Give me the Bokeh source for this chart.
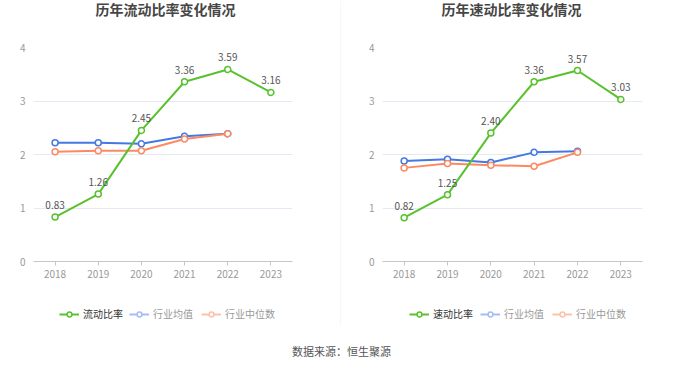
from bokeh.plotting import figure
from bokeh.models import (FactorRange, Range1d, FixedTicker, Legend, LegendItem,
                          ColumnDataSource)
from bokeh.layouts import row, column
from bokeh.embed import file_html
from bokeh.resources import INLINE
from bokeh.core.properties import value

years = ["2018", "2019", "2020", "2021", "2022", "2023"]
years_ind = ["2018", "2019", "2020", "2021", "2022"]

current_ratio = [0.83, 1.26, 2.45, 3.36, 3.59, 3.16]
current_mean = [2.22, 2.22, 2.20, 2.34, 2.39]
current_median = [2.05, 2.07, 2.07, 2.29, 2.39]

quick_ratio = [0.82, 1.25, 2.40, 3.36, 3.57, 3.03]
quick_mean = [1.88, 1.91, 1.85, 2.04, 2.06]
quick_median = [1.75, 1.83, 1.80, 1.78, 2.04]

titles = ["历年流动比率变化情况", "历年速动比率变化情况"]
names = ["流动比率", "速动比率"]
ind_names = ["行业均值", "行业中位数"]
source_text = "数据来源：恒生聚源"
y_ticks = [0, 1, 2, 3, 4]

FONT = "Noto Sans CJK SC"
GREEN = "#58c22e"
BLUE = "#4479e2"
ORANGE = "#fb8a62"
BLUE_L = "#a6bdf1"
ORANGE_L = "#fdc0a9"
NAN = float("nan")


def blank(width, height, left_b, right_b):
    fw = width - left_b - right_b
    f = figure(width=width, height=height, output_backend="svg", toolbar_location=None,
               x_range=Range1d(0, fw), y_range=Range1d(0, height),
               min_border_left=left_b, min_border_right=right_b,
               min_border_top=0, min_border_bottom=0,
               x_axis_type=None, y_axis_type=None)
    f.outline_line_color = None
    f.xgrid.grid_line_color = None
    f.ygrid.grid_line_color = None
    return f


def make_chart(title, name, main, mean, median, width, left_b, right_b, title_x, leg_x):
    # title strip
    t = blank(width, 39, left_b, right_b)
    t.text(x=[title_x], y=[31], text=[title], text_font=value(FONT), text_font_size="14px",
           text_font_style="bold", text_color="#464646", text_align="center",
           text_baseline="middle")

    p = figure(width=width, height=251, x_range=FactorRange(*years),
               y_range=Range1d(0, 4), output_backend="svg", toolbar_location=None,
               min_border_left=left_b, min_border_right=right_b,
               min_border_top=8, min_border_bottom=29)
    p.x_range.range_padding = 0
    p.outline_line_color = None

    p.xgrid.grid_line_color = None
    p.ygrid.grid_line_color = "#e6e9f4"
    p.ygrid.ticker = FixedTicker(ticks=y_ticks)

    p.yaxis.ticker = FixedTicker(ticks=y_ticks)
    p.yaxis.axis_line_color = None
    p.yaxis.major_tick_line_color = None
    p.yaxis.major_tick_in = 0
    p.yaxis.major_tick_out = 0
    p.yaxis.minor_tick_line_color = None
    p.yaxis.major_label_text_color = "#999999"
    p.yaxis.major_label_text_font = FONT
    p.yaxis.major_label_text_font_size = "10px"
    p.yaxis.major_label_standoff = 8

    p.xaxis.axis_line_color = "#c6c6c6"
    p.xaxis.major_tick_line_color = "#c6c6c6"
    p.xaxis.major_tick_in = 0
    p.xaxis.major_tick_out = 4
    p.xaxis.minor_tick_line_color = None
    p.xaxis.major_label_text_color = "#999999"
    p.xaxis.major_label_text_font = FONT
    p.xaxis.major_label_text_font_size = "10px"
    p.xaxis.major_label_standoff = 4

    src_mean = ColumnDataSource(dict(x=years_ind, y=mean))
    src_med = ColumnDataSource(dict(x=years_ind, y=median))
    src_main = ColumnDataSource(dict(x=years, y=main, t=["%.2f" % v for v in main]))

    p.line("x", "y", source=src_mean, color=BLUE, line_width=2)
    p.scatter("x", "y", source=src_mean, size=6, line_color=BLUE, fill_color="white", line_width=1.5)
    p.line("x", "y", source=src_med, color=ORANGE, line_width=2)
    p.scatter("x", "y", source=src_med, size=6, line_color=ORANGE, fill_color="white", line_width=1.5)
    p.line("x", "y", source=src_main, color=GREEN, line_width=2)
    p.scatter("x", "y", source=src_main, size=6, line_color=GREEN, fill_color="white", line_width=1.5)
    p.text("x", "y", text="t", source=src_main, text_font=value(FONT), text_font_size="10px",
           text_color="#555555", text_align="center", text_baseline="middle", y_offset=-12)

    # legend strip (icon-only renderers with no drawable points)
    lgf = blank(width, 40, left_b, right_b)
    dummy = dict(x=[NAN], y=[NAN])
    lb = lgf.line(x=dummy["x"], y=dummy["y"], color=BLUE_L, line_width=2)
    sb = lgf.scatter(x=dummy["x"], y=dummy["y"], size=9, line_color=BLUE_L, fill_color="white", line_width=1.5)
    lo = lgf.line(x=dummy["x"], y=dummy["y"], color=ORANGE_L, line_width=2)
    so = lgf.scatter(x=dummy["x"], y=dummy["y"], size=9, line_color=ORANGE_L, fill_color="white", line_width=1.5)
    lg = lgf.line(x=dummy["x"], y=dummy["y"], color=GREEN, line_width=2)
    sg = lgf.scatter(x=dummy["x"], y=dummy["y"], size=9, line_color=GREEN, fill_color="white", line_width=1.5)

    items = [(name, [lg, sg], "#333333"), (ind_names[0], [lb, sb], "#999999"),
             (ind_names[1], [lo, so], "#999999")]
    for (lab, rs, col), lx in zip(items, leg_x):
        leg = Legend(items=[LegendItem(label=lab, renderers=rs)], location=(lx, 9),
                     padding=0, margin=0, glyph_width=20, glyph_height=12,
                     label_standoff=4, label_text_font=FONT, label_text_font_size="10px",
                     label_text_color=col, background_fill_alpha=0, border_line_alpha=0)
        lgf.add_layout(leg, "center")
    return column(t, p, lgf)


c1 = make_chart(titles[0], names[0], current_ratio, current_mean, current_median,
                340, 33, 48, 132, [26, 96, 168])
c2 = make_chart(titles[1], names[1], quick_ratio, quick_mean, quick_median,
                323, 41, 22, 129, [27, 98, 170])

div = figure(width=1, height=330, output_backend="svg", toolbar_location=None,
             min_border_left=0, min_border_right=0, min_border_top=0, min_border_bottom=5,
             x_axis_type=None, y_axis_type=None)
div.outline_line_color = None
div.background_fill_color = "#efefef"
div.xgrid.grid_line_color = None
div.ygrid.grid_line_color = None

foot = blank(664, 29, 0, 0)
foot.text(x=[341], y=[9], text=[source_text], text_font=value(FONT), text_font_size="11px",
          text_color="#555555", text_align="center", text_baseline="middle")

layout = column(row(c1, div, c2), foot)
open("out.html", "w").write(file_html(layout, INLINE))
